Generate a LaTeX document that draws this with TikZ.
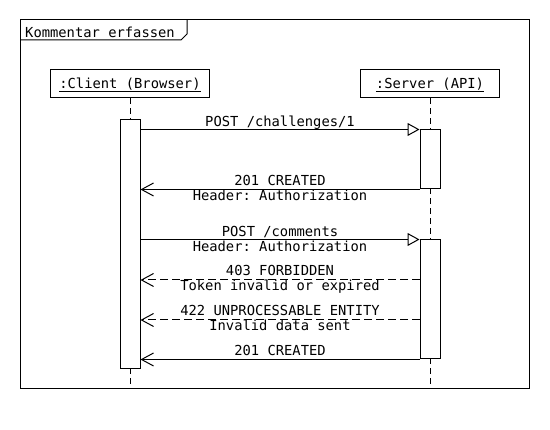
\documentclass[tikz,border=0pt]{standalone}
\usepackage{fontspec}
\setmonofont{DejaVu Sans Mono}
\usetikzlibrary{arrows.meta}
\begin{document}
\begin{tikzpicture}[x=1pt,y=-1pt,
  every node/.style={font=\ttfamily\fontsize{13.8}{15}\selectfont, inner sep=0pt},
  lifebox/.style={draw, line width=1pt, minimum height=28pt, fill=white},
  actbox/.style={draw, line width=1pt, minimum width=20pt, fill=white},
  lifeline/.style={line width=1pt, dash pattern=on 6pt off 4pt},
  syncmsg/.style={line width=1pt, -{Triangle[open, length=12pt, width=13pt, fill=white]}},
  retmsg/.style={line width=1pt, -{Straight Barb[length=12pt, width=13pt]}},
  retdash/.style={retmsg, dash pattern=on 8pt off 4pt},
  lbl/.style={anchor=base}
]
\useasboundingbox (0,0) rectangle (550,430);
% frame
\draw[line width=1pt] (20,20) rectangle (529,389);
\draw[line width=1pt] (20,40) -- (181,40) -- (187,34) -- (187,20);
\node[anchor=base west] (frtitle) at (25,37.5) {Kommentar erfassen};
% lifeline heads
\node[lifebox, minimum width=159pt] (cbox) at (130,84) {};
\node[lbl] (ctext) at (130,88.5) {:Client (Browser)};
\draw[line width=0.8pt] ([yshift=-2.5pt]ctext.base west) -- ([yshift=-2.5pt]ctext.base east);
\node[lifebox, minimum width=139pt] (sbox) at (430,84) {};
\node[lbl] (stext) at (430,88.5) {:Server (API)};
\draw[line width=0.8pt] ([yshift=-2.5pt]stext.base west) -- ([yshift=-2.5pt]stext.base east);
% lifelines
\coordinate (cend) at (130,389);
\coordinate (send) at (430,389);
\draw[lifeline] (cbox.south) -- (cend);
\draw[lifeline] (sbox.south) -- (send);
% activations
\node[actbox, minimum height=249pt] (ca) at (130,244.5) {};
\node[actbox, minimum height=59pt] (sa1) at (430,159.5) {};
\node[actbox, minimum height=119pt] (sa2) at (430,299.5) {};
% messages
\draw[syncmsg] (ca.east |- sa1.north west) -- (sa1.north west);
\node[lbl] (l1) at (280,126.5) {POST /challenges/1};
\draw[retmsg] (sa1.south west) -- (ca.east |- sa1.south west);
\node[lbl] (l2a) at (280,185.5) {201 CREATED};
\node[lbl] (l2b) at (280,200.5) {Header: Authorization};
\draw[syncmsg] (ca.east |- sa2.north west) -- (sa2.north west);
\node[lbl] (l3a) at (280,236.5) {POST /comments};
\node[lbl] (l3b) at (280,251.5) {Header: Authorization};
\coordinate (m4) at (420,280);
\draw[retdash] (m4) -- (ca.east |- m4);
\node[lbl] (l4a) at (280,276) {403 FORBIDDEN};
\node[lbl] (l4b) at (280,291) {Token invalid or expired};
\coordinate (m5) at (420,320);
\draw[retdash] (m5) -- (ca.east |- m5);
\node[lbl] (l5a) at (280,316) {422 UNPROCESSABLE ENTITY};
\node[lbl] (l5b) at (280,331) {Invalid data sent};
\draw[retmsg] (sa2.south west) -- (ca.east |- sa2.south west);
\node[lbl] (l6) at (280,355.5) {201 CREATED};
\end{tikzpicture}
\end{document}
